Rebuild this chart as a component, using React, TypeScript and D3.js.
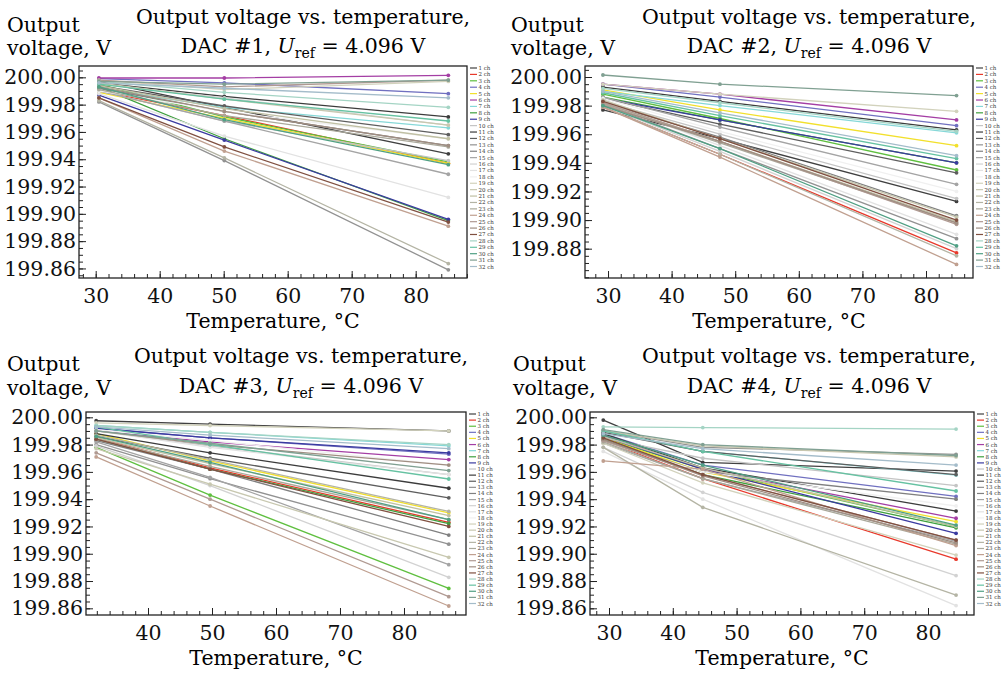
import * as d3 from 'd3'
import { useEffect, useRef } from 'react'

// channel names and colours (legend order)
const channels = d3.range(1, 33).map(i => `${i} ch`)
const colors = [
  '#404040', '#e8392b', '#5fbf3f', '#7070c0', '#f2e02c', '#a43ea4', '#86d8d8', '#3fa03f',
  '#3a3aa0', '#c4c4c4', '#3c3c3c', '#5e5e5e', '#929292', '#808080', '#a4a4a4', '#d2d2d2',
  '#e2e2e2', '#f0f0f0', '#d2d2bc', '#c8c8b0', '#c0c0a4', '#b4b4a4', '#aaa89a', '#c0a090',
  '#b09a92', '#a08e82', '#805040', '#a4d4c4', '#66c2a2', '#50a084', '#80a092', '#a4bcca',
]

// measured temperatures, deg C
const temps1 = [30.5, 50.1, 85.1]
const temps2 = [29.2, 47.6, 84.8]
const temps3 = [31.9, 49.7, 87.0]
const temps4 = [29.1, 44.7, 84.4]

// DAC #1 output voltage, V (ch 1..32)
const dac1At1 = [199.997, 199.990, 199.995, 199.999, 199.989, 199.9995, 199.992, 199.993, 199.987, 199.990, 199.996, 199.994, 199.982, 199.992, 199.990, 199.995, 199.988, 199.990, 199.998, 199.996, 199.994, 199.983, 199.991, 199.985, 199.998, 199.993, 199.985, 199.997, 199.995, 199.993, 199.997, 199.996]
const dac1At2 = [199.978, 199.972, 199.971, 199.996, 199.970, 199.9995, 199.978, 199.955, 199.954, 199.968, 199.986, 199.979, 199.939, 199.975, 199.968, 199.985, 199.957, 199.975, 199.991, 199.984, 199.977, 199.941, 199.972, 199.946, 199.993, 199.975, 199.949, 199.989, 199.984, 199.969, 199.995, 199.992]
const dac1At3 = [199.944, 199.937, 199.938, 199.988, 199.937, 200.0015, 199.963, 199.895, 199.896, 199.939, 199.971, 199.958, 199.859, 199.950, 199.929, 199.965, 199.912, 199.955, 199.997, 199.965, 199.955, 199.8636, 199.949, 199.891, 199.998, 199.950, 199.894, 199.978, 199.968, 199.936, 199.998, 199.985]

// DAC #2
const dac2At1 = [199.977, 199.979, 199.988, 199.995, 199.991, 199.995, 199.990, 199.986, 199.985, 199.983, 199.993, 199.985, 199.981, 199.982, 199.986, 199.980, 199.983, 199.985, 199.995, 199.984, 199.982, 199.979, 199.981, 199.979, 199.982, 199.980, 199.983, 199.992, 199.989, 199.980, 200.0014, 199.990]
const dac2At2 = [199.957, 199.946, 199.971, 199.986, 199.977, 199.988, 199.980, 199.970, 199.970, 199.960, 199.983, 199.967, 199.950, 199.958, 199.965, 199.948, 199.952, 199.962, 199.988, 199.957, 199.955, 199.946, 199.954, 199.944, 199.955, 199.955, 199.957, 199.982, 199.973, 199.950, 199.995, 199.975]
const dac2At3 = [199.913, 199.877, 199.935, 199.966, 199.952, 199.970, 199.961, 199.940, 199.940, 199.915, 199.963, 199.933, 199.887, 199.903, 199.925, 199.880, 199.890, 199.920, 199.976, 199.902, 199.899, 199.875, 199.898, 199.869, 199.897, 199.898, 199.900, 199.962, 199.943, 199.882, 199.987, 199.945]

// DAC #3
const dac3At1 = [199.9975, 199.985, 199.978, 199.992, 199.988, 199.990, 199.994, 199.984, 199.992, 199.990, 199.988, 199.986, 199.980, 199.983, 199.982, 199.979, 199.990, 199.991, 199.996, 199.977, 199.985, 199.987, 199.984, 199.971, 199.974, 199.990, 199.984, 199.994, 199.993, 199.986, 199.990, 199.993]
const dac3At2 = [199.995, 199.963, 199.943, 199.985, 199.968, 199.982, 199.989, 199.962, 199.985, 199.979, 199.974, 199.970, 199.955, 199.962, 199.956, 199.950, 199.978, 199.983, 199.994, 199.951, 199.966, 199.969, 199.964, 199.935, 199.940, 199.980, 199.962, 199.989, 199.980, 199.967, 199.981, 199.987]
const dac3At3 = [199.990, 199.923, 199.8746, 199.973, 199.930, 199.969, 199.979, 199.922, 199.974, 199.958, 199.948, 199.941, 199.907, 199.9137, 199.892, 199.8827, 199.958, 199.965, 199.990, 199.8974, 199.928, 199.931, 199.925, 199.8617, 199.8685, 199.965, 199.920, 199.980, 199.9548, 199.925, 199.961, 199.977]

// DAC #4
const dac4At1 = [199.998, 199.983, 199.985, 199.988, 199.985, 199.987, 199.990, 199.984, 199.986, 199.985, 199.988, 199.989, 199.990, 199.983, 199.981, 199.978, 199.975, 199.982, 199.981, 199.990, 199.986, 199.978, 199.982, 199.968, 199.983, 199.984, 199.985, 199.993, 199.990, 199.987, 199.991, 199.988]
const dac4At2 = [199.967, 199.955, 199.962, 199.965, 199.960, 199.962, 199.975, 199.958, 199.962, 199.970, 199.963, 199.975, 199.978, 199.960, 199.955, 199.945, 199.940, 199.960, 199.952, 199.979, 199.963, 199.934, 199.955, 199.962, 199.958, 199.957, 199.958, 199.9925, 199.975, 199.965, 199.980, 199.977]
const dac4At3 = [199.9606, 199.896, 199.920, 199.942, 199.9235, 199.926, 199.9577, 199.919, 199.915, 199.950, 199.9313, 199.958, 199.9729, 199.940, 199.909, 199.884, 199.862, 199.935, 199.899, 199.971, 199.920, 199.8697, 199.907, 199.906, 199.910, 199.908, 199.910, 199.9914, 199.946, 199.921, 199.972, 199.965]

const yTickLabels1 = [200.0, 199.98, 199.96, 199.94, 199.92, 199.9, 199.88, 199.86]
const yTickLabels2 = [200.0, 199.98, 199.96, 199.94, 199.92, 199.9, 199.88]
const xTickLabels1 = [30, 40, 50, 60, 70, 80]
const xTickLabels3 = [40, 50, 60, 70, 80]

const panels = [
  { dac: 1, temps: temps1, vals: [dac1At1, dac1At2, dac1At3], yTicks: yTickLabels1, xTicks: xTickLabels1,
    box: [79, 467, 66, 278], xDom: [27.39, 88.02], yDom: [199.853, 200.0083], titleX: 303, titleY: 23.5, labelX: 7 },
  { dac: 2, temps: temps2, vals: [dac2At1, dac2At2, dac2At3], yTicks: yTickLabels2, xTicks: xTickLabels1,
    box: [585, 973, 66, 278], xDom: [26.38, 87.39], yDom: [199.8595, 200.0077], titleX: 809, titleY: 23.5, labelX: 511 },
  { dac: 3, temps: temps3, vals: [dac3At1, dac3At2, dac3At3], yTicks: yTickLabels1, xTicks: xTickLabels3,
    box: [86, 466, 412, 615], xDom: [30.31, 89.69], yDom: [199.8551, 200.0039], titleX: 301, titleY: 363, labelX: 7 },
  { dac: 4, temps: temps4, vals: [dac4At1, dac4At2, dac4At3], yTicks: yTickLabels1, xTicks: xTickLabels1,
    box: [590, 974, 412, 615], xDom: [27.02, 87.21], yDom: [199.8551, 200.0039], titleX: 809, titleY: 363, labelX: 513 },
]

const font = '"DejaVu Serif", serif'
const fs = 20.5

const App = () => {
  const ref = useRef<SVGSVGElement>(null)

  useEffect(() => {
    const svg = d3.select(ref.current)
    svg.selectAll('*').remove()

    panels.forEach(p => {
      const [x0, x1, y0, y1] = p.box
      const x = d3.scaleLinear().domain(p.xDom).range([x0, x1])
      const y = d3.scaleLinear().domain(p.yDom).range([y1, y0])
      const g = svg.append('g')

      // minor + major ticks, pointing inward
      const xMinor = d3.range(Math.ceil(p.xDom[0] / 2) * 2, p.xDom[1], 2)
      const yMinor = d3.range(Math.ceil(p.yDom[0] / 0.005) * 0.005, p.yDom[1], 0.005)
      g.append('g').attr('transform', `translate(0,${y1})`)
        .call(d3.axisBottom(x).tickValues(xMinor).tickSizeInner(-4).tickSizeOuter(0).tickFormat(() => ''))
      g.append('g').attr('transform', `translate(0,${y1})`)
        .call(d3.axisBottom(x).tickValues(p.xTicks).tickSizeInner(-7).tickSizeOuter(0).tickPadding(10)
          .tickFormat(d => `${d}`))
      g.append('g').attr('transform', `translate(${x0},0)`)
        .call(d3.axisLeft(y).tickValues(yMinor).tickSizeInner(-4).tickSizeOuter(0).tickFormat(() => ''))
      g.append('g').attr('transform', `translate(${x0},0)`)
        .call(d3.axisLeft(y).tickValues(p.yTicks).tickSizeInner(-7).tickSizeOuter(0).tickPadding(3)
          .tickFormat(d3.format('.2f')))
      g.selectAll('.domain').remove()
      g.selectAll('.tick line').attr('stroke', '#222').attr('stroke-width', 1)
      g.selectAll('.tick text').attr('font-family', font).attr('font-size', fs).attr('fill', '#111')

      // frame
      g.append('rect').attr('x', x0).attr('y', y0).attr('width', x1 - x0).attr('height', y1 - y0)
        .attr('fill', 'none').attr('stroke', '#222').attr('stroke-width', 1.3)

      // series
      const clip = `clip-${p.dac}`
      g.append('clipPath').attr('id', clip).append('rect')
        .attr('x', x0).attr('y', y0).attr('width', x1 - x0).attr('height', y1 - y0)
      const plot = g.append('g').attr('clip-path', `url(#${clip})`)
      const line = d3.line<number[]>().x(d => x(d[0])).y(d => y(d[1]))
      channels.forEach((c, i) => {
        const pts = p.temps.map((t, k) => [t, p.vals[k][i]])
        plot.append('path').attr('d', line(pts)).attr('fill', 'none')
          .attr('stroke', colors[i]).attr('stroke-width', 1.3)
        plot.selectAll(null).data(pts).enter().append('circle')
          .attr('cx', d => x(d[0])).attr('cy', d => y(d[1])).attr('r', 1.9).attr('fill', colors[i])
      })

      // legend
      const step = (y1 - y0 - 13.5) / 31
      const lg = g.append('g')
      channels.forEach((c, i) => {
        const ly = y0 + 2 + i * step
        lg.append('line').attr('x1', x1 + 3).attr('x2', x1 + 10).attr('y1', ly).attr('y2', ly)
          .attr('stroke', colors[i]).attr('stroke-width', 1.2)
        lg.append('text').attr('x', x1 + 11.5).attr('y', ly + 2).text(c)
          .attr('font-family', font).attr('font-size', 5.5).attr('fill', '#333')
      })

      // titles and labels
      g.append('text').attr('x', p.titleX).attr('y', p.titleY).attr('text-anchor', 'middle')
        .attr('font-family', font).attr('font-size', fs).text('Output voltage vs. temperature,')
      const t2 = g.append('text').attr('x', p.titleX).attr('y', p.titleY + 29.5).attr('text-anchor', 'middle')
        .attr('font-family', font).attr('font-size', fs)
      t2.append('tspan').text(`DAC #${p.dac}, `)
      t2.append('tspan').attr('font-style', 'italic').text('U')
      t2.append('tspan').attr('font-size', 14).attr('dy', 5).text('ref')
      t2.append('tspan').attr('dy', -5).text(' = 4.096 V')
      g.append('text').attr('x', p.labelX).attr('y', p.titleY + 8).attr('font-family', font).attr('font-size', fs).text('Output')
      g.append('text').attr('x', p.labelX).attr('y', p.titleY + 31.5).attr('font-family', font).attr('font-size', fs).text('voltage, V')
      g.append('text').attr('x', (x0 + x1) / 2).attr('y', y1 + 50).attr('text-anchor', 'middle')
        .attr('font-family', font).attr('font-size', fs).text('Temperature, °C')
    })
  }, [])

  return <svg ref={ref} width={1007} height={680} style={{ display: 'block', position: 'absolute', left: 0, top: 0, background: '#fff' }} />
}

export default App
